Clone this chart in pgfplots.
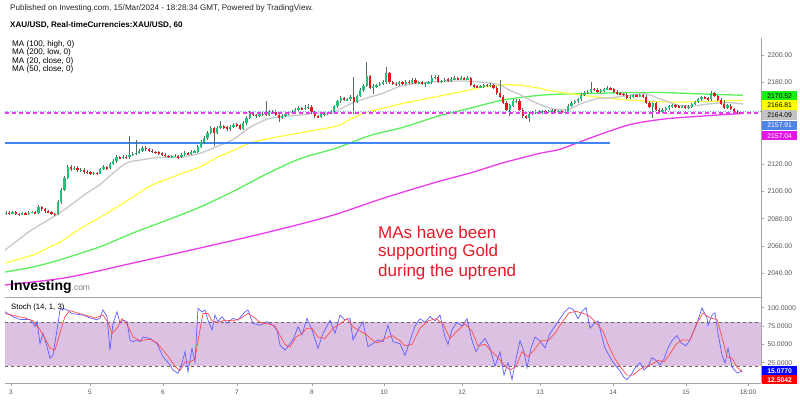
\documentclass[border=0pt]{standalone}
\usepackage{fontspec}
\setmainfont{Liberation Sans}
\usepackage{pgfplots}
\pgfplotsset{compat=1.18}
\usepackage{pgfplotstable}

\definecolor{cgreen}{RGB}{30,195,120}
\definecolor{cred}{RGB}{240,20,20}
\definecolor{wick}{RGB}{85,105,95}
\definecolor{magg}{RGB}{235,60,235}
\definecolor{ma20}{RGB}{200,200,200}
\definecolor{ma50}{RGB}{255,255,70}
\definecolor{ma100}{RGB}{90,240,90}
\definecolor{levelblue}{RGB}{66,133,244}
\definecolor{band}{RGB}{221,193,227}
\definecolor{kblue}{RGB}{95,95,255}
\definecolor{dred}{RGB}{255,75,75}
\definecolor{txtred}{RGB}{230,25,40}
\definecolor{axgray}{RGB}{165,165,165}
\definecolor{tickgray}{RGB}{85,85,85}
\definecolor{lblgreen}{RGB}{20,240,20}
\definecolor{lblyellow}{RGB}{255,255,0}
\definecolor{lblgray}{RGB}{195,195,195}
\definecolor{lblblue}{RGB}{80,130,230}
\definecolor{lblmag}{RGB}{230,20,230}

\pgfplotstableread{
o h l c
2084.0 2086.0 2083.0 2084.5
2084.5 2085.5 2083.0 2084.0
2084.0 2086.0 2083.5 2084.8
2084.8 2085.5 2082.5 2083.5
2083.5 2084.5 2082.0 2083.0
2083.0 2085.0 2082.5 2084.0
2084.0 2085.0 2082.5 2083.5
2083.5 2085.5 2083.0 2084.5
2084.5 2086.0 2084.0 2085.0
2085.0 2086.0 2083.5 2084.2
2084.2 2090.0 2083.5 2088.5
2088.5 2089.5 2086.0 2087.0
2087.0 2088.0 2084.5 2085.5
2085.5 2086.5 2084.0 2085.0
2085.0 2086.0 2082.5 2083.5
2083.5 2084.5 2082.0 2083.2
2083.2 2093.5 2082.5 2092.0
2092.0 2102.5 2091.0 2101.0
2101.0 2111.5 2100.0 2110.0
2110.0 2119.5 2109.0 2118.0
2118.0 2119.5 2115.0 2116.5
2116.5 2119.0 2115.5 2117.5
2117.5 2118.5 2114.0 2115.5
2115.5 2117.5 2114.5 2116.0
2116.0 2117.0 2113.0 2114.5
2114.5 2115.5 2113.0 2114.0
2114.0 2115.0 2112.0 2113.0
2113.0 2114.5 2112.0 2113.5
2113.5 2114.5 2112.0 2113.0
2113.0 2117.5 2112.5 2116.5
2116.5 2119.5 2115.5 2118.0
2118.0 2119.0 2116.0 2117.0
2117.0 2121.5 2116.5 2120.5
2120.5 2123.5 2119.5 2122.0
2122.0 2126.5 2121.0 2125.0
2125.0 2126.0 2123.5 2124.5
2124.5 2127.0 2123.5 2125.5
2125.5 2126.5 2124.0 2125.0
2125.0 2141.0 2124.0 2127.0
2127.0 2129.0 2126.0 2127.5
2127.5 2138.0 2126.5 2128.5
2128.5 2131.0 2127.5 2130.0
2130.0 2133.5 2129.0 2132.0
2132.0 2133.0 2130.0 2131.0
2131.0 2132.0 2129.0 2130.0
2130.0 2131.0 2128.0 2129.0
2129.0 2130.0 2127.5 2128.5
2128.5 2129.5 2127.0 2128.0
2128.0 2129.0 2126.0 2127.0
2127.0 2128.0 2125.0 2126.0
2126.0 2127.0 2124.5 2125.5
2125.5 2127.0 2124.5 2125.5
2125.5 2127.5 2125.0 2126.0
2126.0 2127.0 2124.0 2125.0
2125.0 2128.5 2124.5 2127.0
2127.0 2129.5 2126.0 2128.0
2128.0 2129.0 2126.5 2127.5
2127.5 2130.5 2127.0 2129.0
2129.0 2130.5 2128.0 2129.0
2129.0 2134.0 2128.5 2132.5
2132.5 2137.5 2131.5 2136.0
2136.0 2140.5 2135.0 2139.0
2139.0 2144.5 2138.0 2143.0
2143.0 2148.0 2142.0 2146.5
2146.5 2147.5 2133.0 2143.0
2143.0 2148.0 2142.0 2146.5
2146.5 2151.5 2145.5 2148.0
2148.0 2149.0 2145.5 2147.0
2147.0 2148.0 2144.0 2145.5
2145.5 2149.0 2144.5 2147.5
2147.5 2150.5 2146.5 2149.0
2149.0 2150.0 2147.0 2148.5
2148.5 2149.5 2145.0 2146.0
2146.0 2151.5 2145.0 2150.0
2150.0 2155.5 2149.0 2154.0
2154.0 2159.0 2153.0 2157.5
2157.5 2158.5 2155.0 2156.0
2156.0 2157.0 2154.0 2155.5
2155.5 2158.0 2154.5 2156.5
2156.5 2158.5 2155.5 2157.0
2157.0 2166.0 2155.0 2156.0
2156.0 2159.5 2155.0 2158.0
2158.0 2160.0 2157.0 2158.5
2158.5 2159.5 2155.0 2156.0
2156.0 2157.0 2151.0 2154.0
2154.0 2156.5 2153.0 2155.5
2155.5 2158.5 2154.5 2157.0
2157.0 2159.0 2156.0 2158.0
2158.0 2159.5 2157.0 2158.5
2158.5 2161.5 2157.5 2160.0
2160.0 2162.5 2159.0 2161.0
2161.0 2162.0 2159.5 2160.5
2160.5 2163.0 2159.5 2161.5
2161.5 2164.0 2160.5 2162.0
2162.0 2163.0 2157.0 2158.0
2158.0 2159.0 2154.0 2155.0
2155.0 2156.0 2153.5 2154.5
2154.5 2157.5 2153.5 2156.5
2156.5 2158.0 2155.5 2157.0
2157.0 2158.5 2156.0 2157.5
2157.5 2160.0 2156.5 2159.0
2159.0 2163.5 2158.0 2162.5
2162.5 2167.0 2161.5 2166.0
2166.0 2170.0 2165.0 2168.5
2168.5 2169.5 2166.0 2167.0
2167.0 2168.5 2166.0 2167.5
2167.5 2170.5 2166.5 2169.0
2169.0 2184.0 2157.0 2165.5
2165.5 2171.0 2164.5 2170.0
2170.0 2175.5 2169.0 2174.0
2174.0 2179.0 2173.0 2177.5
2177.5 2195.0 2176.5 2184.5
2184.5 2185.5 2175.0 2176.0
2176.0 2178.5 2171.5 2177.0
2177.0 2179.0 2176.0 2178.0
2178.0 2180.0 2177.0 2179.0
2179.0 2181.5 2178.0 2180.0
2180.0 2191.0 2179.0 2186.5
2186.5 2187.5 2179.0 2180.0
2180.0 2181.0 2178.0 2179.0
2179.0 2180.0 2177.5 2178.5
2178.5 2181.0 2177.5 2180.0
2180.0 2181.0 2178.0 2179.0
2179.0 2182.0 2178.0 2180.5
2180.5 2181.5 2178.5 2179.5
2179.5 2183.5 2178.5 2182.0
2182.0 2183.0 2178.5 2179.5
2179.5 2181.0 2178.5 2180.0
2180.0 2181.0 2178.0 2179.0
2179.0 2180.5 2176.5 2179.5
2179.5 2181.0 2178.5 2180.0
2180.0 2185.0 2179.0 2183.5
2183.5 2185.5 2182.5 2184.0
2184.0 2185.0 2179.5 2180.5
2180.5 2182.0 2179.5 2181.0
2181.0 2183.0 2180.0 2182.0
2182.0 2183.0 2180.5 2181.5
2181.5 2184.0 2180.5 2182.5
2182.5 2184.5 2181.5 2183.0
2183.0 2184.0 2181.5 2182.5
2182.5 2184.5 2181.5 2183.0
2183.0 2184.0 2181.5 2182.5
2182.5 2184.5 2181.5 2183.0
2183.0 2184.0 2177.0 2178.0
2178.0 2179.0 2176.0 2177.0
2177.0 2178.0 2175.5 2176.5
2176.5 2178.0 2175.5 2177.0
2177.0 2179.0 2176.0 2178.0
2178.0 2179.0 2176.5 2177.5
2177.5 2179.5 2176.5 2178.0
2178.0 2179.0 2175.0 2176.0
2176.0 2177.0 2171.0 2172.0
2172.0 2182.0 2168.5 2169.5
2169.5 2170.5 2164.0 2165.0
2165.0 2166.0 2159.0 2160.0
2160.0 2164.0 2155.0 2163.0
2163.0 2167.5 2162.0 2166.0
2166.0 2168.0 2165.0 2166.5
2166.5 2167.5 2159.0 2160.0
2160.0 2161.0 2154.0 2155.0
2155.0 2156.0 2153.0 2154.0
2154.0 2158.0 2151.0 2157.0
2157.0 2159.0 2156.0 2158.0
2158.0 2159.5 2157.0 2158.5
2158.5 2159.5 2157.0 2158.0
2158.0 2160.0 2157.0 2159.0
2159.0 2160.0 2157.5 2158.5
2158.5 2160.0 2157.5 2159.0
2159.0 2160.5 2158.0 2159.5
2159.5 2160.5 2157.5 2158.5
2158.5 2160.0 2157.5 2159.0
2159.0 2160.0 2157.0 2158.0
2158.0 2159.5 2157.0 2158.5
2158.5 2164.0 2157.5 2163.0
2163.0 2166.0 2162.0 2165.0
2165.0 2167.0 2164.0 2166.0
2166.0 2168.5 2165.0 2167.5
2167.5 2172.0 2166.5 2171.0
2171.0 2173.5 2170.0 2172.5
2172.5 2174.0 2171.5 2173.0
2173.0 2180.0 2172.0 2175.0
2175.0 2176.0 2173.5 2174.5
2174.5 2175.5 2172.0 2173.0
2173.0 2175.0 2172.0 2174.0
2174.0 2176.0 2173.0 2175.0
2175.0 2177.0 2174.0 2175.5
2175.5 2176.5 2174.0 2175.0
2175.0 2176.0 2172.0 2173.0
2173.0 2174.0 2171.0 2172.0
2172.0 2173.0 2170.5 2171.5
2171.5 2172.5 2170.0 2171.0
2171.0 2172.0 2167.5 2168.5
2168.5 2170.5 2167.5 2169.5
2169.5 2171.5 2168.5 2170.5
2170.5 2171.5 2169.0 2170.0
2170.0 2171.5 2169.0 2170.5
2170.5 2171.5 2168.5 2169.5
2169.5 2170.5 2164.0 2165.0
2165.0 2166.0 2161.0 2162.0
2162.0 2165.5 2154.0 2164.5
2164.5 2165.5 2159.0 2160.0
2160.0 2161.0 2157.5 2158.5
2158.5 2161.0 2157.5 2160.0
2160.0 2162.0 2159.0 2161.0
2161.0 2163.5 2160.0 2162.5
2162.5 2164.0 2161.5 2163.0
2163.0 2164.0 2161.5 2162.5
2162.5 2163.5 2161.0 2162.0
2162.0 2163.5 2161.0 2162.5
2162.5 2163.5 2160.5 2161.5
2161.5 2163.0 2160.5 2162.0
2162.0 2165.0 2161.0 2164.0
2164.0 2166.5 2163.0 2165.5
2165.5 2168.5 2164.5 2167.5
2167.5 2170.0 2166.5 2169.0
2169.0 2170.0 2167.5 2168.5
2168.5 2169.5 2166.5 2167.5
2167.5 2173.5 2166.5 2172.0
2172.0 2173.0 2169.0 2170.0
2170.0 2171.0 2166.0 2167.0
2167.0 2168.5 2163.0 2164.0
2164.0 2167.0 2160.5 2161.5
2161.5 2164.0 2160.5 2163.0
2163.0 2164.0 2159.5 2160.5
2160.5 2161.5 2157.5 2158.5
2158.5 2159.5 2157.0 2158.0
2158.0 2159.0 2156.5 2157.9
}\candles

\begin{document}
\begin{tikzpicture}
\fill[white] (0,0) rectangle (800pt,399pt);
\path[use as bounding box] (0,0) rectangle (800pt,399pt);

% ---------------- main price pane ----------------
\begin{axis}[
  at={(5pt,102pt)}, anchor=south west, scale only axis,
  width=756pt, height=259pt,
  xmin=5, xmax=761, ymin=2022.71, ymax=2212.45,
  axis x line*=bottom, axis y line*=right,
  axis line style={draw=axgray, line width=1pt, -},
  xtick=\empty,
  ytick={2040,2060,2080,2100,2120,2180,2200},
  tick align=outside, major tick length=3pt,
  tick style={draw=axgray, line width=0.6pt},
  y tick label style={font=\fontsize{6.8}{8}\selectfont, text=tickgray,
    /pgf/number format/.cd, fixed, fixed zerofill, precision=2, 1000 sep={}, assume math mode=true},
]
% moving averages
\addplot[color=magg, line width=1.3pt, smooth] coordinates {(5,2031.5) (67,2037) (133,2047.6) (200,2058.6) (267,2070) (330,2082) (383,2095) (437,2107) (470,2113.5) (503,2121) (540,2128) (560,2131) (597,2141) (630,2149) (663,2153) (697,2155) (743,2157.2)};
\addplot[color=ma100, line width=1.3pt, smooth] coordinates {(5,2041) (33,2044.7) (60,2050) (100,2059.5) (133,2069.6) (167,2079) (200,2088.6) (233,2100) (267,2113) (300,2124) (337,2132) (370,2141) (403,2147) (437,2155) (470,2161) (503,2167) (540,2170.5) (570,2171.5) (600,2172) (630,2172.5) (663,2172.5) (700,2171.5) (743,2170.5)};
\addplot[color=ma50, line width=1.3pt, smooth] coordinates {(5,2047.6) (33,2053.5) (50,2059.5) (60,2063) (83,2074) (100,2081) (117,2088.6) (133,2096) (150,2104) (167,2109) (183,2113.5) (200,2118) (217,2125) (233,2130) (250,2135.5) (267,2138.5) (300,2143) (337,2148) (350,2153) (367,2158) (383,2161) (403,2164.5) (433,2169) (467,2174) (483,2176.5) (500,2178) (517,2178) (533,2176.5) (550,2174) (567,2172) (600,2169) (630,2167) (663,2165.6) (697,2165.8) (743,2166.8)};
\addplot[color=ma20, line width=1.3pt, smooth] coordinates {(5,2057) (30,2071) (57,2083) (67,2088) (87,2099) (100,2105) (113,2113.5) (127,2121) (140,2123) (160,2125) (180,2125) (200,2128) (217,2133) (233,2138) (250,2147) (267,2153) (283,2155) (300,2156) (317,2157.5) (333,2158) (350,2164) (367,2168.5) (383,2172) (400,2177) (420,2179.5) (440,2180.5) (460,2181) (475,2180.5) (490,2179.5) (500,2178) (510,2174) (520,2171) (533,2166) (550,2161) (560,2160) (570,2160.5) (580,2164) (597,2168) (610,2168.5) (625,2170) (645,2171.5) (663,2167) (680,2163) (697,2163) (713,2164.5) (730,2165) (743,2164.1)};
% horizontal level
\addplot[draw=levelblue, line width=2pt, mark=none] table {
x y
5 2135.2
610 2135.2
};
% candles: wicks
\addplot[draw=none, mark=none, error bars/.cd, y dir=plus, y explicit, error mark=none,
  error bar style={draw=wick, line width=0.6pt}]
  table[x expr=6+3.25*\coordindex, y=l, y error expr={\thisrow{h}-\thisrow{l}}] {\candles};
% candles: rising bodies
\addplot[draw=none, mark=none, restrict expr to domain={\thisrow{c}-\thisrow{o}}{0:1000},
  error bars/.cd, y dir=both, y explicit, error mark=none,
  error bar style={draw=cgreen, line width=2.2pt}]
  table[x expr=6+3.25*\coordindex, y expr={(\thisrow{o}+\thisrow{c})/2},
        y error expr={max(abs(\thisrow{c}-\thisrow{o})/2,0.35)}] {\candles};
% candles: falling bodies
\addplot[draw=none, mark=none, restrict expr to domain={\thisrow{o}-\thisrow{c}}{0.0001:1000},
  error bars/.cd, y dir=both, y explicit, error mark=none,
  error bar style={draw=cred, line width=2.2pt}]
  table[x expr=6+3.25*\coordindex, y expr={(\thisrow{o}+\thisrow{c})/2},
        y error expr={max(abs(\thisrow{c}-\thisrow{o})/2,0.35)}] {\candles};
\addplot[color=magg, line width=1.3pt, dash pattern=on 4pt off 3pt, mark=none] coordinates {(5,2157.6) (761,2157.6)};
\addplot[draw=levelblue!70, line width=0.5pt, dotted, mark=none] coordinates {(5,2158.6) (761,2158.6)};
\end{axis}

% ---------------- stochastic pane ----------------
\begin{axis}[
  at={(5pt,16pt)}, anchor=south west, scale only axis,
  width=756pt, height=86pt,
  xmin=5, xmax=761, ymin=-2.73, ymax=114.6,
  axis x line*=bottom, axis y line*=right,
  axis line style={draw=axgray, line width=1pt, -},
  xtick={11,90,163,237,312,384,462,540,613,686,748},
  xticklabels={3,5,6,7,8,10,12,13,14,15,18:00},
  ytick={25,50,75,100},
  tick align=outside, major tick length=3pt,
  tick style={draw=axgray, line width=0.6pt},
  x tick label style={font=\fontsize{6.5}{8}\selectfont, text=tickgray},
  y tick label style={font=\fontsize{6.8}{8}\selectfont, text=tickgray,
    /pgf/number format/.cd, fixed, fixed zerofill, precision=4, 1000 sep={}, assume math mode=true},
]
\addplot[fill=band, draw=none] coordinates {(5,20) (761,20) (761,80) (5,80)} -- cycle;
\addplot[gray!80!black, line width=0.6pt, dashed] coordinates {(5,80) (761,80)};
\addplot[gray!80!black, line width=0.6pt, dashed] coordinates {(5,20) (761,20)};
\addplot[color=kblue, line width=0.7pt] coordinates {(5,94.5) (13,87.7) (20,84) (30,84) (33,78.6) (35,74) (37,81) (40,51) (43,65) (47,47) (50,31) (53,35.5) (57,69.5) (60,96.8) (63,99) (67,97) (72,92) (77,91) (83,90) (90,86) (97,83.5) (100,86) (103,97) (107,88) (110,42) (113,78.6) (117,94.5) (120,78.6) (123,83) (127,81) (130,56) (133,53.6) (137,56) (140,53.6) (143,60) (150,58) (157,51) (163,33) (170,22) (173,15) (178,10.5) (182,24) (185,40) (188,12.7) (192,44.5) (195,26) (198,99) (202,94.5) (205,96.8) (208,83) (212,69.5) (215,90) (218,81) (222,87.7) (227,78.6) (233,85.5) (238,83) (242,90) (245,94.5) (248,96.8) (253,78.6) (260,76) (267,81) (273,76) (277,69.5) (280,49) (285,42) (290,51) (293,56) (298,74) (302,63) (307,85.5) (312,69.5) (318,44.5) (323,65) (330,83) (335,65) (340,90) (345,83) (350,85.5) (353,56) (358,69.5) (363,81) (368,47) (373,51) (378,56) (383,53.6) (388,76) (393,53.6) (400,51) (405,35) (410,55) (415,75) (420,85) (425,80) (430,88) (435,82) (440,90) (445,60) (448,50) (452,70) (457,80) (462,75) (467,85) (472,55) (476,40) (480,50) (485,58) (490,45) (495,20) (500,40) (504,8) (508,25) (512,2) (516,30) (520,55) (524,40) (527,18) (531,45) (535,60) (540,55) (545,45) (550,65) (555,75) (560,85) (565,95) (569,100) (573,98) (578,85) (582,95) (586,100) (590,72) (594,78) (598,82) (602,60) (605,45) (609,35) (612,28) (616,20) (620,14) (624,5) (627,2) (631,8) (635,18) (640,25) (644,15) (648,20) (652,32) (656,28) (660,22) (664,30) (668,45) (672,55) (677,62) (681,52) (686,48) (690,56) (697,79) (702,99.6) (707,86) (708,76) (712,90) (715,93) (718,65) (722,35.5) (725,24.5) (728,45) (732,19) (737,11) (740,12.5) (742,15.1)};
\addplot[color=dred, line width=0.7pt] coordinates {(5,92) (15,89) (25,86) (33,82) (40,70) (45,58) (50,45) (55,42) (60,66) (65,88) (70,96) (77,93) (85,90) (95,86) (103,90) (108,80) (112,65) (117,72) (122,85) (128,75) (133,60) (140,55) (150,57) (157,52) (163,42) (170,30) (175,20) (180,14) (185,26) (190,26) (195,30) (198,55) (203,92) (208,92) (212,82) (218,80) (225,83) (233,82) (240,85) (248,92) (253,88) (260,80) (268,78) (275,75) (280,62) (285,50) (290,46) (296,60) (302,65) (307,72) (312,72) (318,60) (325,58) (333,72) (340,78) (347,85) (353,74) (360,68) (366,64) (372,56) (378,52) (385,58) (392,62) (400,55) (405,48) (412,50) (420,72) (428,82) (436,85) (443,78) (450,58) (457,68) (465,78) (472,68) (478,48) (485,50) (492,40) (498,32) (504,22) (510,15) (516,20) (522,40) (528,33) (534,42) (541,55) (548,55) (555,65) (562,80) (569,93) (576,95) (584,92) (590,88) (597,78) (603,68) (609,47) (615,30) (621,18) (627,8) (633,8) (640,16) (646,20) (652,23) (658,28) (664,26) (670,37) (676,50) (682,56) (690,56) (697,79) (703,93) (710,86) (717,84) (722,60) (727,33) (732,31) (737,19) (742,12.5)};
\end{axis}

% ---------------- texts and labels (pixel coordinates, y downward) ----------------
\begin{scope}[shift={(0pt,399pt)}, x=1pt, y=-1pt]
\node[anchor=west, inner sep=0pt, font=\fontsize{8.1}{9}\selectfont, text=black!85] at (10,8.5) {Published on Investing.com, 15/Mar/2024 - 18:28:34 GMT, Powered by TradingView.};
\node[anchor=west, inner sep=0pt, font=\bfseries\fontsize{8.1}{9}\selectfont] at (10,25) {XAU/USD, Real-timeCurrencies:XAU/USD, 60};
\node[anchor=west, inner sep=0pt, font=\fontsize{8.1}{9}\selectfont] at (12,44) {MA (100, high, 0)};
\node[anchor=west, inner sep=0pt, font=\fontsize{8.1}{9}\selectfont] at (12,52.5) {MA (200, low, 0)};
\node[anchor=west, inner sep=0pt, font=\fontsize{8.1}{9}\selectfont] at (12,61) {MA (20, close, 0)};
\node[anchor=west, inner sep=0pt, font=\fontsize{8.1}{9}\selectfont] at (12,69.5) {MA (50, close, 0)};
\node[anchor=west, inner sep=0pt, font=\fontsize{17}{20}\selectfont, text=txtred] at (378,232) {MAs have been};
\node[anchor=west, inner sep=0pt, font=\fontsize{17}{20}\selectfont, text=txtred] at (378,252) {supporting Gold};
\node[anchor=west, inner sep=0pt, font=\fontsize{17}{20}\selectfont, text=txtred] at (378,272) {during the uptrend};
\node[anchor=base west, inner sep=0pt] at (10,291) {\bfseries\fontsize{14}{16}\selectfont Investing\mdseries\fontsize{8.5}{10}\selectfont\textcolor{gray}{.com}};
\node[anchor=west, inner sep=0pt, font=\fontsize{7.8}{9}\selectfont] at (11,307) {Stoch (14, 1, 3)};
% last value labels
\node[anchor=west, fill=lblgreen, text=black, minimum width=35pt, minimum height=9.5pt, inner sep=0pt, font=\fontsize{6.8}{8}\selectfont] at (762,95.7) {2170.52};
\node[anchor=west, fill=lblyellow, text=black, minimum width=35pt, minimum height=9.5pt, inner sep=0pt, font=\fontsize{6.8}{8}\selectfont] at (762,105.2) {2166.81};
\node[anchor=west, fill=lblgray, text=black, minimum width=35pt, minimum height=9.5pt, inner sep=0pt, font=\fontsize{6.8}{8}\selectfont] at (762,115) {2164.09};
\node[anchor=west, fill=lblblue, text=white, minimum width=35pt, minimum height=9.5pt, inner sep=0pt, font=\fontsize{6.8}{8}\selectfont] at (762,125.3) {2157.91};
\node[anchor=west, fill=lblmag, text=white, minimum width=35pt, minimum height=9.5pt, inner sep=0pt, font=\fontsize{6.8}{8}\selectfont] at (762,135.7) {2157.04};
\node[anchor=west, fill=blue, text=white, minimum width=35pt, minimum height=9pt, inner sep=0pt, font=\bfseries\fontsize{6.8}{8}\selectfont] at (762,370.7) {15.0770};
\node[anchor=west, fill=red, text=white, minimum width=35pt, minimum height=9pt, inner sep=0pt, font=\bfseries\fontsize{6.8}{8}\selectfont] at (762,379.8) {12.5042};
\end{scope}
\end{tikzpicture}
\end{document}
